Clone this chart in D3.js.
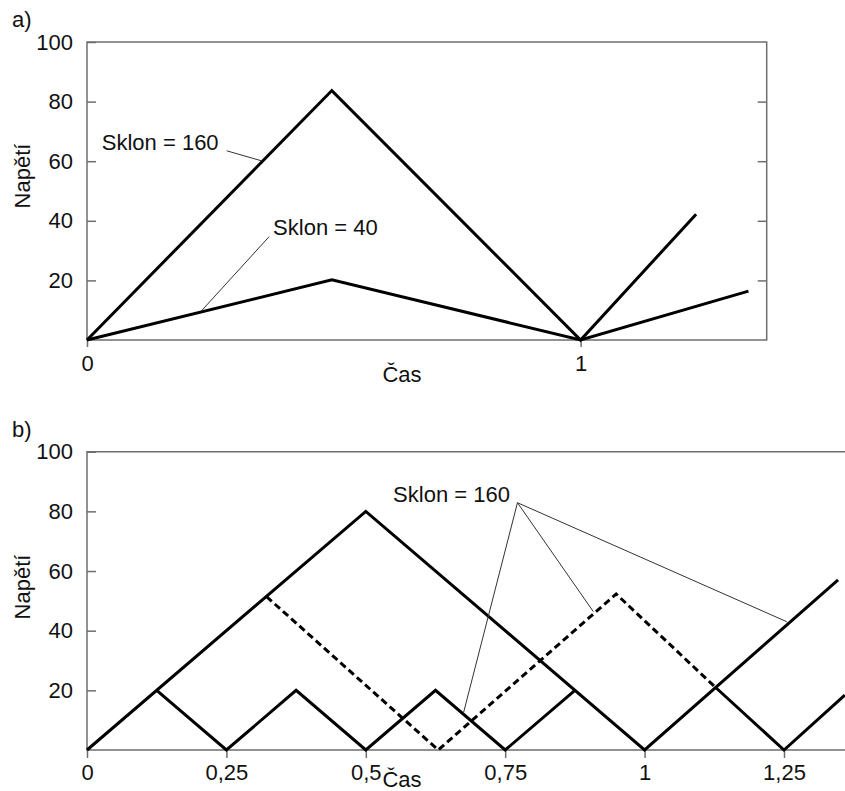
<!DOCTYPE html>
<html>
<head>
<meta charset="utf-8">
<script src="https://cdn.jsdelivr.net/npm/d3@7"></script>
<style>
  html, body { margin: 0; padding: 0; background: #fff; }
  svg { display: block; font-family: "Liberation Sans", Arial, sans-serif; }
</style>
</head>
<body>
<svg id="chart" width="845" height="791"></svg>
<script>
// ---------- DATA ----------
// Panel a
const aYTicks = [20, 40, 60, 80, 100];
const aXTicks = [0, 1];
const aXTickLabels = ["0", "1"];
const aTime160 = [0, 0.496, 1, 1.234];
const aVolt160 = [0, 83.7, 0, 42.2];
const aTime40 = [0, 0.496, 1, 1.34];
const aVolt40 = [0, 20.2, 0, 16.4];
const aLabels = ["Sklon = 160", "Sklon = 40"];
// annotation: text anchor (t, v) and leader from/to (t, v)
const aLabelPos = [[0.030, 63.8], [0.377, 35.3]];
const aLeaderFrom = [[0.283, 63.5], [0.369, 34.7]];
const aLeaderTo = [[0.354, 60.1], [0.232, 9.8]];

// Panel b
const bYTicks = [20, 40, 60, 80, 100];
const bXTicks = [0, 0.25, 0.5, 0.75, 1, 1.25];
const bXTickLabels = ["0", "0,25", "0,5", "0,75", "1", "1,25"];
const bTimeBig = [0, 0.5, 1, 1.347];
const bVoltBig = [0, 80, 0, 57];
const bTimeSmall = [0.125, 0.25, 0.375, 0.5, 0.625, 0.75, 0.875];
const bVoltSmall = [20, 0, 20, 0, 20, 0, 20];
const bTimeDash = [0.322, 0.63, 0.949, 1.126];
const bVoltDash = [51.4, 0, 52.3, 21.2];
const bTimeTail = [1.126, 1.25, 1.359];
const bVoltTail = [21.2, 0, 18.4];
const bLabel = "Sklon = 160";
const bLabelPos = [0.549, 83.2];
const bLeaderFrom = [0.772, 82.9];
const bLeaderTo = [[0.675, 12.3], [0.908, 46.4], [1.255, 43.0]];

const yTitle = "Napětí";
const xTitle = "Čas";

// ---------- DRAW ----------
const svg = d3.select("#chart");
const FS = 22;
const axisColor = "#6e6e6e";
const textColor = "#111";

const zip = (t, v) => t.map((d, i) => [d, v[i]]);

function drawLine(g, x, y, pts, dashed) {
  const line = d3.line().x(d => x(d[0])).y(d => y(d[1]));
  g.append("path")
    .attr("d", line(pts))
    .attr("fill", "none")
    .attr("stroke", "#000")
    .attr("stroke-width", 3)
    .attr("stroke-linejoin", "miter")
    .attr("stroke-dasharray", dashed ? "7,4" : null);
}

function styleAxis(sel) {
  sel.select(".domain").remove();
  sel.selectAll(".tick line").attr("stroke", axisColor).attr("stroke-width", 1.5);
  sel.selectAll(".tick text")
    .attr("fill", textColor)
    .style("font-size", FS + "px")
    .style("font-family", '"Liberation Sans", Arial, sans-serif');
}

// ----- Panel a -----
{
  const x = d3.scaleLinear().domain([0, 1.377]).range([87, 766.7]);
  const y = d3.scaleLinear().domain([0, 100]).range([340, 42]);
  const g = svg.append("g");

  // frame
  g.append("rect")
    .attr("x", x(0)).attr("y", y(100))
    .attr("width", x(1.377) - x(0)).attr("height", y(0) - y(100))
    .attr("fill", "none").attr("stroke", axisColor).attr("stroke-width", 1.5);

  const yl = g.append("g").attr("transform", `translate(${x(0)},0)`)
    .call(d3.axisLeft(y).tickValues(aYTicks).tickSize(-9).tickSizeOuter(0).tickPadding(14).tickFormat(d3.format("d")));
  styleAxis(yl);
  const yr = g.append("g").attr("transform", `translate(${x(1.377)},0)`)
    .call(d3.axisRight(y).tickValues(aYTicks.filter(d => d < 100)).tickSize(-9).tickSizeOuter(0).tickFormat(""));
  styleAxis(yr);
  const xb = g.append("g").attr("transform", `translate(0,${y(0)})`)
    .call(d3.axisBottom(x).tickValues(aXTicks).tickSize(7).tickSizeOuter(0).tickPadding(8.5)
      .tickFormat((d, i) => aXTickLabels[i]));
  styleAxis(xb);

  drawLine(g, x, y, zip(aTime160, aVolt160), false);
  drawLine(g, x, y, zip(aTime40, aVolt40), false);

  // annotations
  aLabels.forEach((lab, i) => {
    g.append("line")
      .attr("x1", x(aLeaderFrom[i][0])).attr("y1", y(aLeaderFrom[i][1]))
      .attr("x2", x(aLeaderTo[i][0])).attr("y2", y(aLeaderTo[i][1]))
      .attr("stroke", "#333").attr("stroke-width", 1);
    g.append("text")
      .attr("x", x(aLabelPos[i][0])).attr("y", y(aLabelPos[i][1]))
      .attr("fill", textColor).style("font-size", FS + "px").text(lab);
  });

  g.append("text").attr("x", 12).attr("y", 27).attr("fill", textColor)
    .style("font-size", FS + "px").text("a)");
  g.append("text").attr("transform", `translate(30,176) rotate(-90)`)
    .attr("text-anchor", "middle").attr("fill", textColor)
    .style("font-size", FS + "px").text(yTitle);
  g.append("text").attr("x", 402).attr("y", 382).attr("text-anchor", "middle")
    .attr("fill", textColor).style("font-size", FS + "px").text(xTitle);
}

// ----- Panel b -----
{
  const x = d3.scaleLinear().domain([0, 1.25]).range([87, 784]);
  const y = d3.scaleLinear().domain([0, 100]).range([750, 451.7]);
  const g = svg.append("g");
  const xr = 845;

  // frame: left, top, bottom
  g.append("path")
    .attr("d", `M${xr},${y(100)}H${x(0)}V${y(0)}H${xr}`)
    .attr("fill", "none").attr("stroke", axisColor).attr("stroke-width", 1.5);

  const yl = g.append("g").attr("transform", `translate(${x(0)},0)`)
    .call(d3.axisLeft(y).tickValues(bYTicks).tickSize(-9).tickSizeOuter(0).tickPadding(14).tickFormat(d3.format("d")));
  styleAxis(yl);
  const xb = g.append("g").attr("transform", `translate(0,${y(0)})`)
    .call(d3.axisBottom(x).tickValues(bXTicks).tickSize(8).tickSizeOuter(0).tickPadding(6.5)
      .tickFormat((d, i) => bXTickLabels[i]));
  styleAxis(xb);

  drawLine(g, x, y, zip(bTimeBig, bVoltBig), false);
  drawLine(g, x, y, zip(bTimeSmall, bVoltSmall), false);
  drawLine(g, x, y, zip(bTimeDash, bVoltDash), true);
  drawLine(g, x, y, zip(bTimeTail, bVoltTail), false);

  bLeaderTo.forEach(p => {
    g.append("line")
      .attr("x1", x(bLeaderFrom[0])).attr("y1", y(bLeaderFrom[1]))
      .attr("x2", x(p[0])).attr("y2", y(p[1]))
      .attr("stroke", "#333").attr("stroke-width", 1);
  });
  g.append("text").attr("x", x(bLabelPos[0])).attr("y", y(bLabelPos[1]))
    .attr("fill", textColor).style("font-size", FS + "px").text(bLabel);

  g.append("text").attr("x", 12).attr("y", 437).attr("fill", textColor)
    .style("font-size", FS + "px").text("b)");
  g.append("text").attr("transform", `translate(30,587) rotate(-90)`)
    .attr("text-anchor", "middle").attr("fill", textColor)
    .style("font-size", FS + "px").text(yTitle);
  g.append("text").attr("x", 402).attr("y", 787).attr("text-anchor", "middle")
    .attr("fill", textColor).style("font-size", FS + "px").text(xTitle);
}
</script>
</body>
</html>
